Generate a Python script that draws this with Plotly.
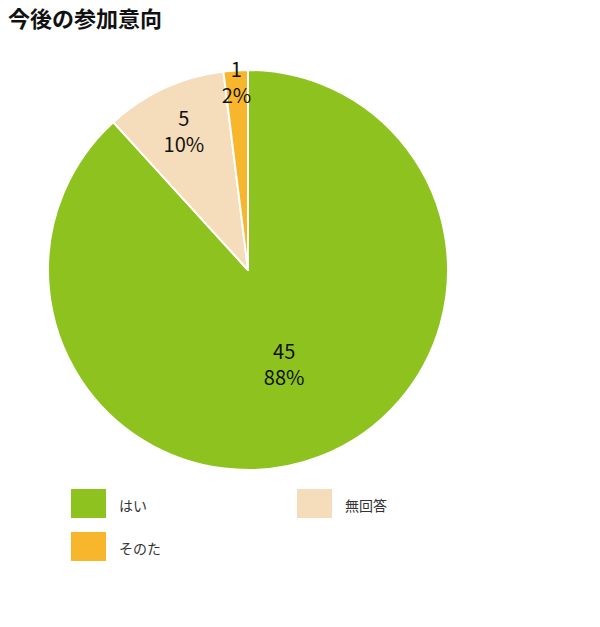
import plotly.graph_objects as go

# data
labels = ["はい", "無回答", "そのた"]
values = [45, 5, 1]
colors = ["#8dc21f", "#f5dcba", "#f8b62d"]

# page adds an 8px body margin, so work in reference pixels minus 8
W, H = 592, 619
OFF = 8
font = "Noto Sans CJK JP"


def px(x):
    return (x - OFF) / W


def py(y):
    return 1 - (y - OFF) / H


fig = go.Figure(go.Pie(
    labels=labels, values=values, sort=False, direction="clockwise", rotation=0,
    marker=dict(colors=colors, line=dict(color="white", width=2)),
    texttemplate="%{value}<br>%{percent:.0%}", textposition="inside",
    insidetextorientation="horizontal",
    textfont=dict(size=20, color="#111111", family=font),
    domain=dict(x=[px(48), px(448)], y=[py(470), py(70)]),
    showlegend=False, hoverinfo="label+value+percent",
))

# legend drawn as big squares, two per row
shapes, annots = [], []
for i, (lab, col) in enumerate(zip(labels, colors)):
    x0 = 71 if i % 2 == 0 else 297
    y0 = 489 + (i // 2) * 43
    shapes.append(dict(type="rect", xref="paper", yref="paper",
                       x0=px(x0), x1=px(x0 + 35), y0=py(y0), y1=py(y0 + 29),
                       fillcolor=col, line=dict(width=0)))
    annots.append(dict(text=lab, xref="paper", yref="paper", x=px(x0 + 46), y=py(y0 + 16),
                       xanchor="left", yanchor="middle", showarrow=False,
                       font=dict(size=14, color="#333333", family=font)))

fig.update_layout(
    width=W, height=H, margin=dict(l=0, r=0, t=0, b=0),
    paper_bgcolor="white", plot_bgcolor="white",
    uniformtext=dict(minsize=20, mode="show"),
    title=dict(text="<b>今後の参加意向</b>", x=px(8), y=py(19), xanchor="left", yanchor="middle",
               font=dict(size=22, color="#111111", family=font)),
    shapes=shapes, annotations=annots,
)

fig.write_html("out.html")
